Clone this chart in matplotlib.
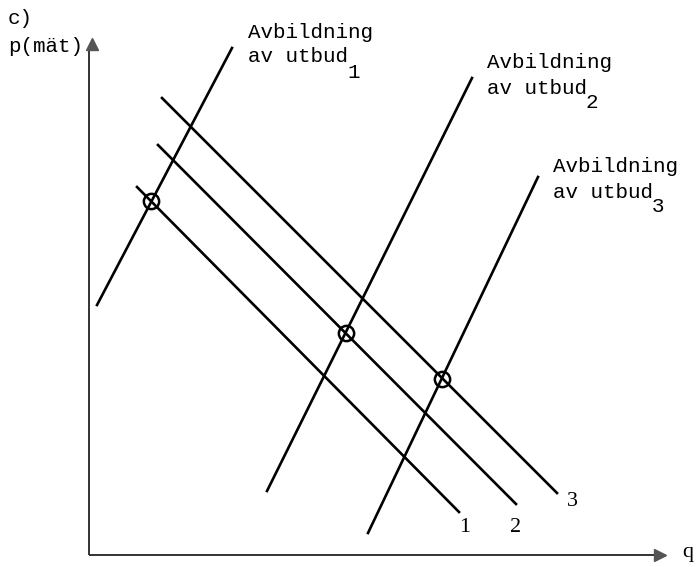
import matplotlib.pyplot as plt

# Line endpoints in diagram units (q, p), origin at the axis corner
supply_q = [(0.8, 14.3), (17.8, 38.3), (27.9, 44.9)]
supply_p = [(25.0, 50.7), (6.4, 47.7), (2.2, 37.8)]
demand_q = [(4.8, 37.0), (6.9, 42.7), (7.3, 46.8)]
demand_p = [(36.8, 4.3), (41.0, 5.1), (45.7, 6.2)]
demand_names = ["1", "2", "3"]
demand_label_q = [37.6, 42.7, 48.3]
demand_label_p = [2.8, 2.8, 5.3]

# Equilibrium points
eq_q = [6.2, 25.7, 35.3]
eq_p = [35.4, 22.2, 17.6]

# Supply labels
supply_text_q = [15.9, 39.8, 46.4]
supply_text_p = [52.3, 49.2, 38.8]
supply_subs = ["1", "2", "3"]

q_max = 56.5
p_max = 50.8

fig = plt.figure(figsize=(6.96, 5.67), dpi=100)
ax = fig.add_axes([0, 0, 1, 1])
ax.set_xlim(-8.9, 60.7)
ax.set_ylim(-1.2, 55.5)
ax.axis("off")

mono = "Liberation Mono"
serif = "Liberation Serif"

# Axes with arrow heads
ax.plot([0, q_max], [0, 0], color="#333333", lw=1.4, solid_capstyle="butt")
ax.plot([0, 0], [0, p_max], color="#333333", lw=1.4, solid_capstyle="butt")
ax.plot(q_max + 0.6, 0, marker=">", color="#555555", ms=9)
ax.plot(0.3, p_max + 0.3, marker="^", color="#555555", ms=8)

# Supply and demand lines
for qs, ps in zip(supply_q, supply_p):
    ax.plot(qs, ps, color="black", lw=1.9)
for qs, ps in zip(demand_q, demand_p):
    ax.plot(qs, ps, color="black", lw=1.9)

# Equilibrium markers
ax.plot(eq_q, eq_p, "o", ms=11, mfc="none", mec="black", mew=1.8)

# Labels
for name, x, y in zip(demand_names, demand_label_q, demand_label_p):
    ax.text(x, y, name, family=serif, fontsize=16, ha="center", va="center")

for sub, x, y in zip(supply_subs, supply_text_q, supply_text_p):
    ax.text(x, y, "Avbildning", family=mono, fontsize=15, ha="left", va="center")
    ax.text(x, y - 2.5, "av utbud", family=mono, fontsize=15, ha="left", va="center")
    ax.text(x + 9.9, y - 4.0, sub, family=mono, fontsize=15, ha="left", va="center")

ax.text(-8.1, 53.6, "c)", family=mono, fontsize=15, ha="left", va="center")
ax.text(-8.1, 50.9, "p(mät)", family=mono, fontsize=15, ha="left", va="center")
ax.text(59.9, 0.2, "q", family=serif, fontsize=16, ha="center", va="center")

fig.savefig("out.png", dpi=100)
